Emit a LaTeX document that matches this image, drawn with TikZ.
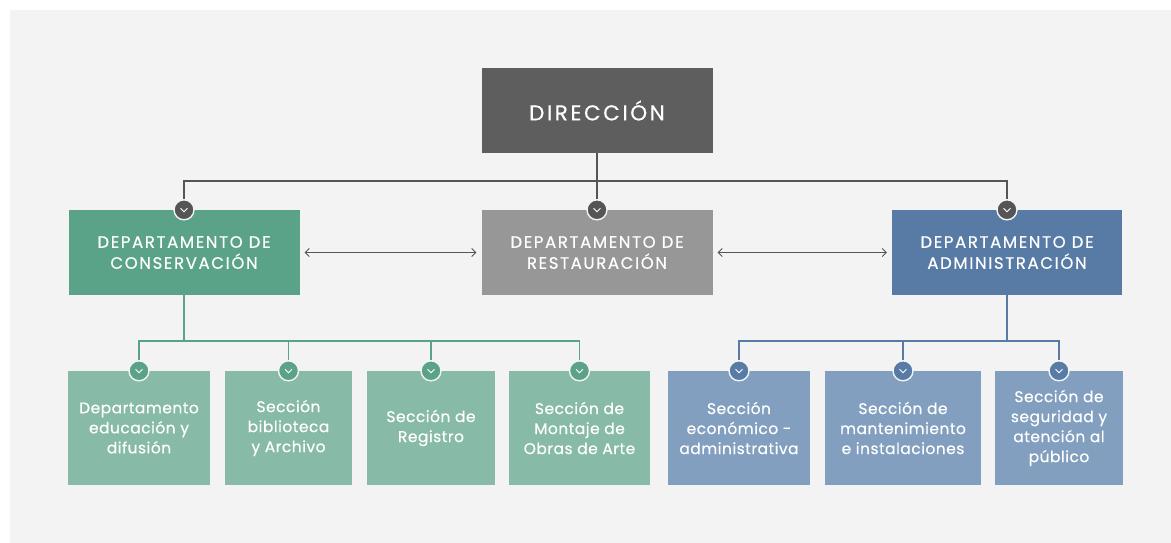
\documentclass[tikz,border=0pt]{standalone}
\usepackage{fontspec}
\setmainfont{Poppins}
\newfontfamily\titulo{Poppins}[LetterSpace=10, FakeBold=0.5]
\newfontfamily\texto{Poppins}[LetterSpace=3, FakeBold=0.3]
\usetikzlibrary{arrows.meta}

\definecolor{fondo}{HTML}{F3F3F3}
\definecolor{oscuro}{HTML}{5E5E5E}
\definecolor{linea}{HTML}{555555}
\definecolor{verde}{HTML}{5AA388}
\definecolor{verdeclaro}{HTML}{87BBA7}
\definecolor{gris}{HTML}{979797}
\definecolor{azul}{HTML}{587BA6}
\definecolor{azulclaro}{HTML}{829FBF}

\tikzset{
  caja/.style={inner sep=0pt, align=center, text=white},
  jefe/.style={caja, fill=#1, minimum width=231, minimum height=85,
    font=\titulo\fontsize{16.5}{21}\selectfont},
  seccion/.style={caja, fill=#1, minimum height=114,
    font=\texto\fontsize{15.5}{20}\selectfont},
  punto/.style={circle, minimum size=20, inner sep=0pt, draw=fondo,
    line width=1.4, fill=#1,
    path picture={\draw[white, line width=0.9]
      ([shift={(-3.5,-1.5)}]path picture bounding box.center)
      -- ++(3.5,3.5) -- ++(3.5,-3.5);}},
  doble/.style={linea, line width=0.9, {Straight Barb[length=4pt,width=8pt]}-{Straight Barb[length=4pt,width=8pt]},
    shorten <=5, shorten >=5}
}

\begin{document}
\begin{tikzpicture}[x=1pt, y=-1pt]
    \useasboundingbox (0,0) rectangle (1171,543);
    \fill[white] (0,0) rectangle (1171,543);
    \fill[fondo] (10,10) rectangle (1171,543);

    % Kopf
    \node[caja, fill=oscuro, minimum width=231, minimum height=85,
      font=\titulo\fontsize{21.5}{28}\addfontfeature{LetterSpace=12}] (dir) at (597,110.5) {DIRECCIÓN};

    % Departamentos
    \node[jefe=verde] (con) at (184,252.5) {DEPARTAMENTO DE\\CONSERVACIÓN};
    \node[jefe=gris] (res) at (597,252.5) {DEPARTAMENTO DE\\RESTAURACIÓN};
    \node[jefe=azul, minimum width=230] (adm) at (1007,252.5) {DEPARTAMENTO DE\\ADMINISTRACIÓN};

    % Secciones
    \node[seccion=verdeclaro, minimum width=142] (g1) at (139,428) {Departamento\\educación y\\difusión};
    \node[seccion=verdeclaro, minimum width=127] (g2) at (288.5,428) {Sección\\biblioteca\\y Archivo};
    \node[seccion=verdeclaro, minimum width=128] (g3) at (431,428) {Sección de\\Registro};
    \node[seccion=verdeclaro, minimum width=141] (g4) at (579.5,428) {Sección de\\Montaje de\\Obras de Arte};

    \node[seccion=azulclaro, minimum width=142] (b1) at (739,428) {Sección\\económico -\\administrativa};
    \node[seccion=azulclaro, minimum width=156] (b2) at (903,428) {Sección de\\mantenimiento\\e instalaciones};
    \node[seccion=azulclaro, minimum width=128] (b3) at (1059,428) {Sección de\\seguridad y\\atención al\\público};

    % Linien
    \coordinate (arriba) at (597,181);
    \coordinate (gbus) at (184,341);
    \coordinate (bbus) at (1007,341);

    \draw[linea, line width=1.2] (dir.south) -- (res.north);
    \draw[linea, line width=1.2] (con.north) |- (arriba) -| (adm.north);

    \draw[verde, line width=1.2] (con.south) -- (gbus);
    \draw[verde, line width=1.2] (g1.north) |- (gbus) -| (g4.north);
    \foreach \n in {g2,g3}
      \draw[verde, line width=1.2] (\n.north) -- (\n.north |- gbus);

    \draw[azul, line width=1.2] (adm.south) -- (bbus);
    \draw[azul, line width=1.2] (b1.north) |- (bbus) -| (b3.north);
    \draw[azul, line width=1.2] (b2.north) -- (b2.north |- bbus);

    \draw[doble] (con.east) -- (res.west);
    \draw[doble] (res.east) -- (adm.west);

    % Punkte
    \foreach \n in {con,res,adm}
      \node[punto=linea] at (\n.north) {};
    \foreach \n in {g1,g2,g3,g4}
      \node[punto=verde] at (\n.north) {};
    \foreach \n in {b1,b2,b3}
      \node[punto=azul] at (\n.north) {};
\end{tikzpicture}
\end{document}
